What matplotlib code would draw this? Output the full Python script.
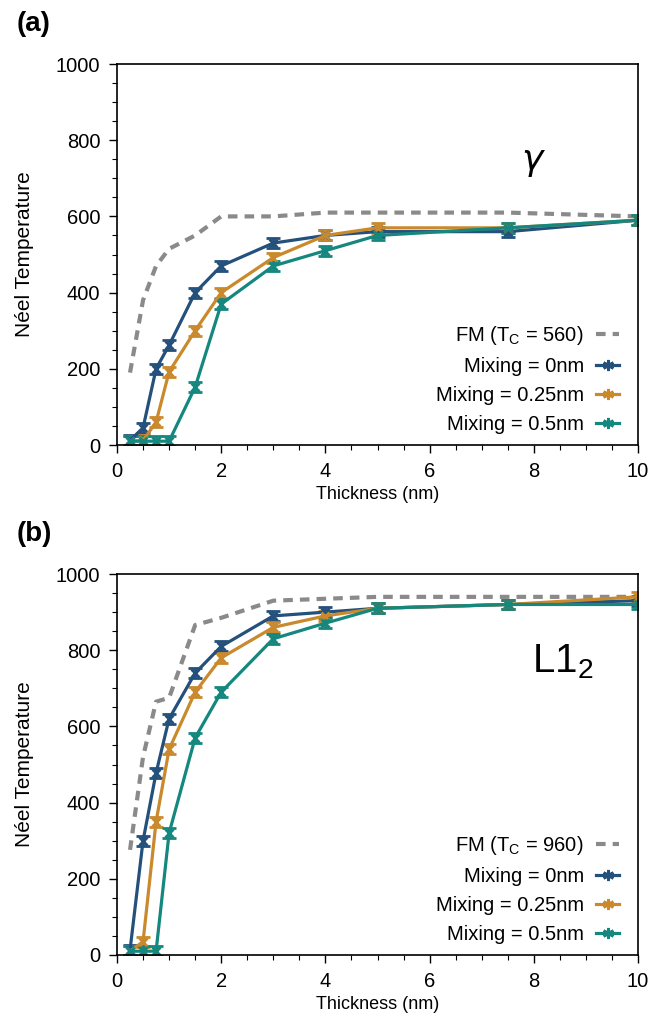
import matplotlib.pyplot as plt
import numpy as np
from matplotlib.lines import Line2D

plt.rcParams['font.family'] = ['Liberation Sans', 'DejaVu Sans']

thickness = [0.25, 0.5, 0.75, 1.0, 1.5, 2, 3, 4, 5, 7.5, 10]

# panel (a): gamma phase
fm_a = [190, 380, 470, 515, 550, 600, 600, 610, 610, 610, 600]
mix0_a = [12, 45, 200, 262, 400, 470, 530, 550, 560, 560, 590]
mix025_a = [10, 12, 60, 192, 300, 400, 492, 550, 570, 570, 590]
mix05_a = [10, 10, 10, 10, 152, 370, 470, 510, 550, 570, 590]

# panel (b): L1_2 phase
fm_b = [276, 520, 665, 675, 866, 885, 930, 935, 940, 940, 940]
mix0_b = [13, 300, 478, 620, 740, 810, 890, 900, 910, 920, 930]
mix025_b = [10, 35, 350, 540, 690, 780, 860, 890, 910, 920, 940]
mix05_b = [10, 10, 10, 320, 570, 690, 830, 871, 910, 920, 920]

mix_labels = ["Mixing = 0nm", "Mixing = 0.25nm", "Mixing = 0.5nm"]
colors = ["#24507c", "#c9892c", "#14877f"]
fm_color = "#8a8a8a"
fm_dash = (0, (2.3, 1.7))


def panel(ax, fm, series, tc, phase_text, phase_pos, phase_size, tag):
    fm_label = f"FM (T$_\\mathregular{{C}}$ = {tc})"
    ax.plot(thickness, fm, ls=fm_dash, color=fm_color, lw=3)
    handles = [Line2D([], [], ls=fm_dash, color=fm_color, lw=3)]
    for y, c in zip(series, colors):
        ax.errorbar(thickness, y, yerr=13, color=c, lw=2.3, marker="x",
                    ms=6, mew=2, capsize=5, capthick=2.2, elinewidth=2)
        handles.append(Line2D([], [], color=c, lw=2.3, marker=(6, 2, 0),
                              ms=8, mew=2))
    ax.set_xlim(0, 10)
    ax.set_ylim(0, 1000)
    ax.set_xticks(np.arange(0, 11, 2))
    ax.set_xticks(np.arange(0, 10.01, 0.5), minor=True)
    ax.set_yticks(np.arange(0, 1001, 200))
    ax.set_yticks(np.arange(0, 1001, 50), minor=True)
    ax.tick_params(labelsize=14.5, direction="out", length=6, width=1, pad=6)
    ax.tick_params(which="minor", length=3.5, width=0.8)
    for s in ax.spines.values():
        s.set_linewidth(1.2)
    ax.set_xlabel("Thickness (nm)", fontsize=13, labelpad=4)
    ax.set_ylabel("Néel Temperature", fontsize=15, labelpad=16)
    ax.text(*phase_pos, phase_text, transform=ax.transAxes,
            fontsize=phase_size, ha="center", va="center")
    ax.text(-0.192, 1.105, tag, transform=ax.transAxes, fontsize=20,
            fontweight="bold", ha="left", va="center")
    ax.legend(handles, [fm_label] + mix_labels, loc="lower right",
              frameon=False, markerfirst=False,
              fontsize=14.5, handlelength=1.15, handletextpad=0.6,
              labelspacing=0.5, borderaxespad=0.15, borderpad=0.4,
              alignment="right", bbox_to_anchor=(0.985, 0))


fig = plt.figure(figsize=(6.7, 10.23), dpi=100)
ax1 = fig.add_axes([117 / 670, 1 - 445 / 1023, 521 / 670, 381 / 1023])
ax2 = fig.add_axes([117 / 670, 1 - 955 / 1023, 521 / 670, 381 / 1023])

panel(ax1, fm_a, [mix0_a, mix025_a, mix05_a], 560,
      r"$\gamma$", (0.80, 0.745), 26, "(a)")
panel(ax2, fm_b, [mix0_b, mix025_b, mix05_b], 960,
      "L1$_\\mathregular{2}$", (0.855, 0.77), 29, "(b)")

fig.savefig("out.png", dpi=100)
